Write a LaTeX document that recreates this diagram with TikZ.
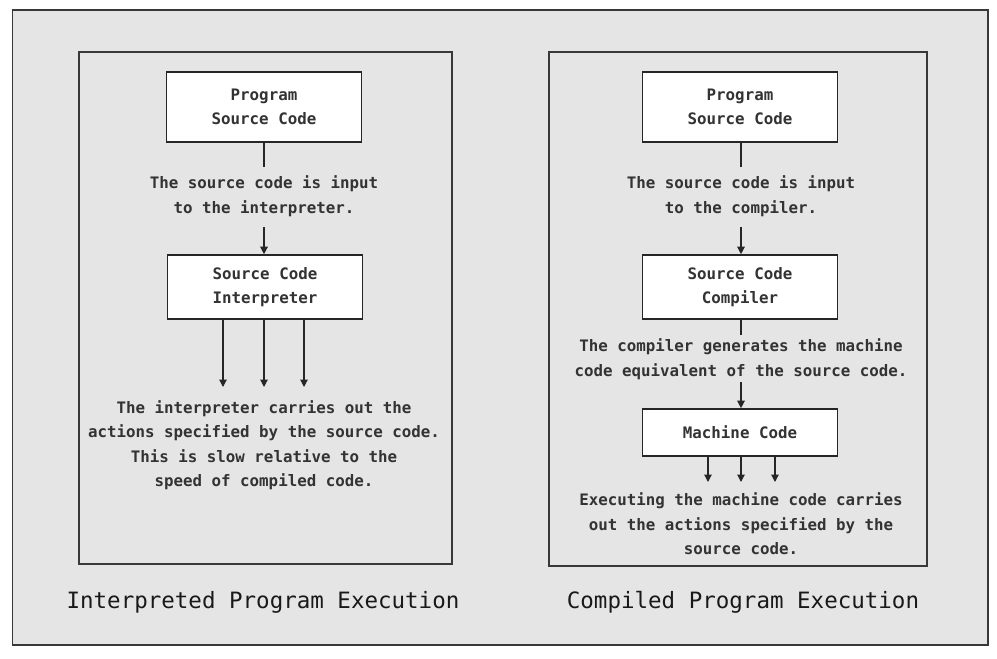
\documentclass[tikz,border=0pt]{standalone}
\usepackage{fontspec}
\newfontfamily\codefont{DejaVu Sans Mono}
\usetikzlibrary{arrows.meta}
\tikzset{
  frame/.style={draw=black!78, line width=1.8pt},
  codebox/.style={draw=black!85, line width=1.6pt, fill=white, minimum width=195pt, inner sep=0pt, align=center, text=black!80, font=\codefont\bfseries\fontsize{15.8}{24.5}\selectfont},
  note/.style={inner sep=0pt, align=center, text=black!80, font=\codefont\bfseries\fontsize{15.8}{24.5}\selectfont},
  title/.style={inner sep=0pt, text=black!90, font=\codefont\fontsize{22.5}{27}\selectfont},
  link/.style={draw=black!85, line width=1.2pt},
  arr/.style={link, -{Triangle[length=7.5pt,width=7.5pt]}}
}
\begin{document}
\begin{tikzpicture}[x=1pt,y=-1pt]
			%%%%% START %%%%%
			
			\useasboundingbox (0,0) rectangle (997,659);
			\draw[frame, fill=gray!20] (12.5,10) rectangle (988,645);
			\draw[frame] (79,52) rectangle (452,564);
			\draw[frame] (549,52) rectangle (927,566);
			
			% interpreted
			\node[codebox, minimum height=70pt] (isrc) at (264,107) {Program\\Source Code};
			\node[note] (inote1) at (264,196) {The source code is input\\to the interpreter.};
			\node[codebox, minimum height=64pt] (interp) at (265,287) {Source Code\\Interpreter};
			\node[note] (inote2) at (264,445) {The interpreter carries out the\\actions specified by the source code.\\This is slow relative to the\\speed of compiled code.};
			\node[title] (ititle) at (263,602) {Interpreted Program Execution};
			
			\coordinate (itick) at (264,167);
			\coordinate (iin) at (264,227);
			\coordinate (ia1) at (223,387);
			\coordinate (ia2) at (264,387);
			\coordinate (ia3) at (304,387);
			
			\draw[link] (isrc.south -| itick) -- (itick);
			\draw[arr] (iin) -- (iin |- interp.north);
			\draw[arr] (interp.south -| ia1) -- (ia1);
			\draw[arr] (interp.south -| ia2) -- (ia2);
			\draw[arr] (interp.south -| ia3) -- (ia3);
			
			% compiled
			\node[codebox, minimum height=70pt] (csrc) at (740,107) {Program\\Source Code};
			\node[note] (cnote1) at (741,196) {The source code is input\\to the compiler.};
			\node[codebox, minimum height=64pt] (comp) at (740,287) {Source Code\\Compiler};
			\node[note] (cnote2) at (741,359) {The compiler generates the machine\\code equivalent of the source code.};
			\node[codebox, minimum height=47pt] (mach) at (740,432.5) {Machine Code};
			\node[note] (cnote3) at (741,524) {Executing the machine code carries\\out the actions specified by the\\source code.};
			\node[title] (ctitle) at (743,602) {Compiled Program Execution};
			
			\coordinate (ctick) at (741,167);
			\coordinate (cin) at (741,227);
			\coordinate (cgen) at (741,335);
			\coordinate (cout) at (741,382);
			\coordinate (ca1) at (708,482);
			\coordinate (ca2) at (741,482);
			\coordinate (ca3) at (775,482);
			
			\draw[link] (csrc.south -| ctick) -- (ctick);
			\draw[arr] (cin) -- (cin |- comp.north);
			\draw[link] (comp.south -| cgen) -- (cgen);
			\draw[arr] (cout) -- (cout |- mach.north);
			\draw[arr] (mach.south -| ca1) -- (ca1);
			\draw[arr] (mach.south -| ca2) -- (ca2);
			\draw[arr] (mach.south -| ca3) -- (ca3);
			
			%%%%% END %%%%%
\end{tikzpicture}
\end{document}
